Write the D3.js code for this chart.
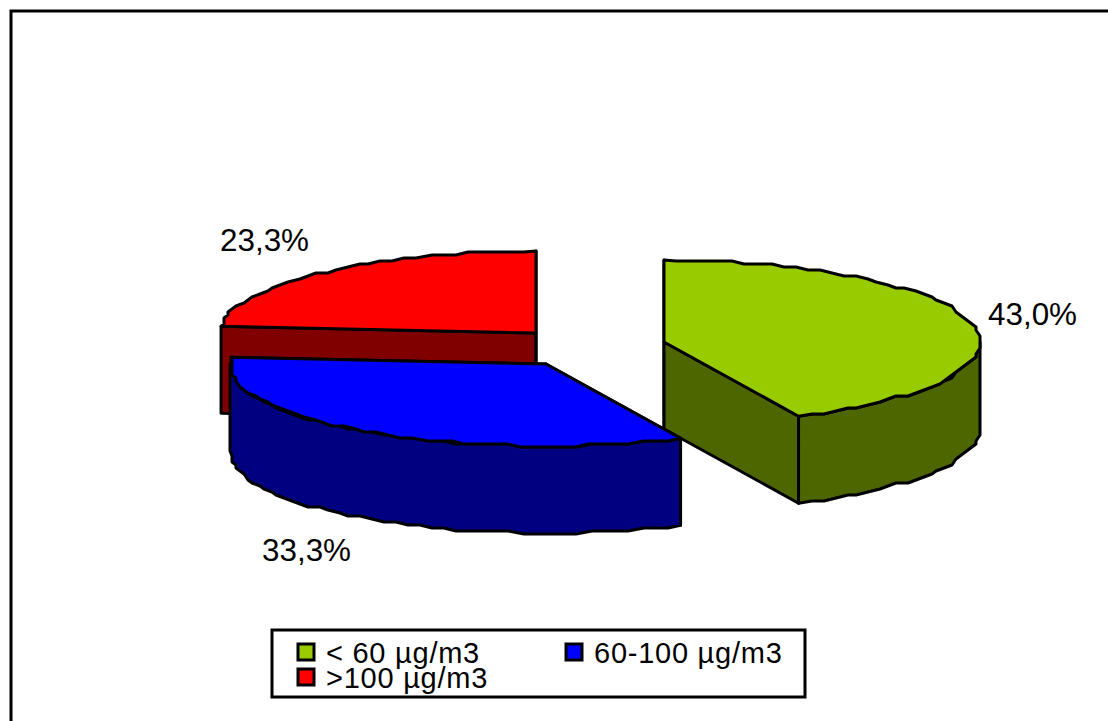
<!DOCTYPE html>
<html>
<head>
<meta charset="utf-8">
<script src="https://cdn.jsdelivr.net/npm/d3@7"></script>
<style>
html, body { margin: 0; padding: 0; background: #fff; overflow: hidden; }
svg { display: block; }
text { font-family: "Liberation Sans", Arial, sans-serif; fill: #000; }
</style>
</head>
<body>
<div id="graph"></div>
<script>
const categories = ["< 60 µg/m3", "60-100 µg/m3", ">100 µg/m3"];
const values = [43.0, 33.3, 23.3];
const topColors = ["#99cc00", "#0000ff", "#ff0000"];
const sideColors = ["#4d6600", "#000080", "#800000"];

const width = 1108, height = 721;
const rx = 316, ry = 82, depth = 87;

// centro de cada fatia (pizza explodida)
const centers = [[664, 342], [546, 364], [536, 333]];
const labelPos = [[988, 325], [262, 561], [220, 251]];
const legendPos = [[298, 663], [566, 663], [298, 688]];

const svg = d3.select("#graph").append("svg")
    .attr("width", width)
    .attr("height", height);

svg.append("rect")
    .attr("width", width).attr("height", height)
    .attr("fill", "#fff");

// moldura externa
svg.append("rect")
    .attr("x", 11).attr("y", 11)
    .attr("width", width + 20).attr("height", height + 20)
    .attr("fill", "none")
    .attr("stroke", "#000")
    .attr("stroke-width", 3);

const xUnit = d3.scaleLinear().domain([-1, 1]).range([-rx, rx]);
const yUnit = d3.scaleLinear().domain([-1, 1]).range([-ry, ry]);

// os valores somam 99,6: os ângulos saem em % de 100 e a última fatia fecha o círculo
const pie = d3.pie().sort(null).value(d => d).endAngle(2 * Math.PI * d3.sum(values) / 100);
const arcs = pie(values);
arcs[arcs.length - 1].endAngle = 2 * Math.PI;

// ponto na borda, arredondado p/ imitar o contorno serrilhado do original
function rimPoint(c, a) {
    const px = c[0] + xUnit(Math.sin(a));
    const py = c[1] + yUnit(-Math.cos(a));
    return [Math.round(px / 4) * 4, Math.round(py / 3) * 3];
}

function rimPoints(c, a0, a1) {
    const n = Math.max(2, Math.ceil((a1 - a0) / (Math.PI / 72)));
    const pts = d3.range(n + 1).map(i => rimPoint(c, a0 + (a1 - a0) * i / n));
    // as pontas ficam exatas
    pts[0] = [c[0] + xUnit(Math.sin(a0)), c[1] + yUnit(-Math.cos(a0))];
    pts[n] = [c[0] + xUnit(Math.sin(a1)), c[1] + yUnit(-Math.cos(a1))];
    return pts;
}

const line = d3.line();
const down = p => [p[0], p[1] + depth];

function drawFace(pts, fill) {
    svg.append("path")
        .attr("d", line(pts) + "Z")
        .attr("fill", fill)
        .attr("stroke", "#000")
        .attr("stroke-width", 3)
        .attr("stroke-linejoin", "round");
}

// vermelho atrás, depois verde, azul na frente
[2, 0, 1].forEach(i => {
    const a = arcs[i];
    const c = centers[i];
    const rim = rimPoints(c, a.startAngle, a.endAngle);
    const first = rim[0], last = rim[rim.length - 1];

    // faces de corte
    drawFace([c, first, down(first), down(c)], sideColors[i]);
    drawFace([c, last, down(last), down(c)], sideColors[i]);

    // lateral, só a parte virada para frente
    const from = Math.max(a.startAngle, Math.PI / 2);
    const to = Math.min(a.endAngle, Math.PI * 1.5);
    if (to > from) {
        const front = rimPoints(c, from, to);
        drawFace(front.concat(front.map(down).reverse()), sideColors[i]);
    }

    // topo
    drawFace([c].concat(rim), topColors[i]);
});

// rótulos
const fmt = d3.formatLocale({ decimal: ",", thousands: ".", grouping: [3], currency: ["", ""] }).format(".1f");

svg.selectAll("text.pct")
    .data(values)
    .join("text")
    .attr("class", "pct")
    .attr("x", (d, i) => labelPos[i][0])
    .attr("y", (d, i) => labelPos[i][1])
    .attr("font-size", 31.4)
    .text(d => fmt(d) + "%");

// legenda
svg.append("rect")
    .attr("x", 272).attr("y", 630)
    .attr("width", 533).attr("height", 67)
    .attr("fill", "#fff")
    .attr("stroke", "#000")
    .attr("stroke-width", 3);

categories.forEach((name, i) => {
    const p = legendPos[i];
    svg.append("rect")
        .attr("x", p[0]).attr("y", p[1] - 19)
        .attr("width", 16).attr("height", 16)
        .attr("fill", topColors[i])
        .attr("stroke", "#000")
        .attr("stroke-width", 3);
    svg.append("text")
        .attr("x", p[0] + 28).attr("y", p[1])
        .attr("font-size", 29)
        .attr("letter-spacing", 0.75)
        .text(name);
});
</script>
</body>
</html>
